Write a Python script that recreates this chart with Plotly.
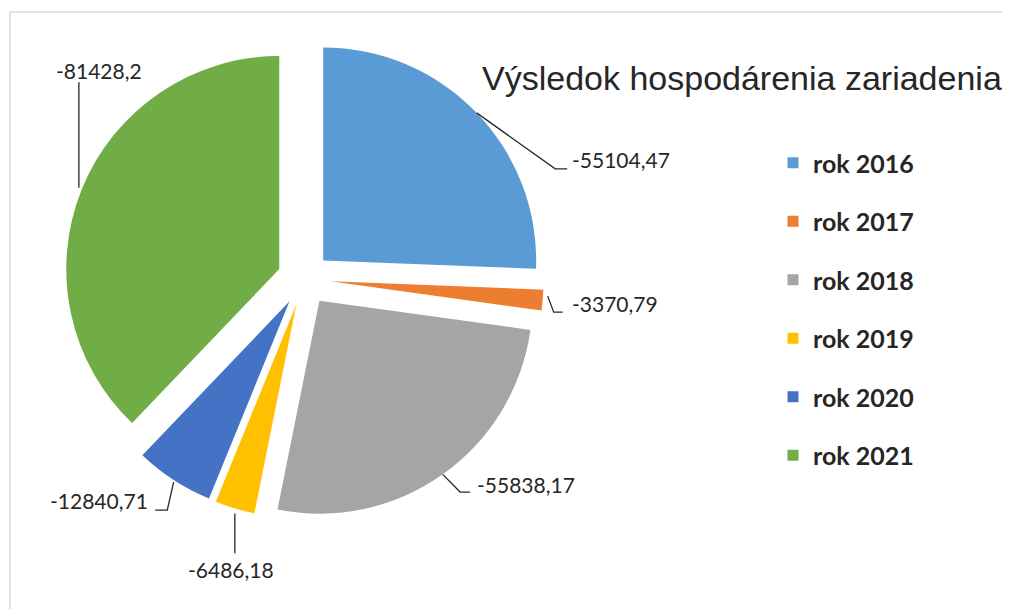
import math
import plotly.graph_objects as go

# ---- data ----
years = ["rok 2016", "rok 2017", "rok 2018", "rok 2019", "rok 2020", "rok 2021"]
results = [-55104.47, -3370.79, -55838.17, -6486.18, -12840.71, -81428.2]
colors = ["#5B9BD5", "#ED7D31", "#A5A5A5", "#FFC000", "#4472C4", "#70AD47"]
title_text = "Výsledok hospodárenia zariadenia"

labels_txt = [str(v).replace(".", ",") for v in results]
sizes = [abs(v) for v in results]

# ---- layout geometry (pixels in the figure) ----
W, H = 1010, 609
OFF = 8                # page body margin
CX, CY = 304 - OFF, 279 - OFF   # pie centre
R = 213                # pie radius
PULL = 0.125
box = 2 * R * (1 + PULL)
dom_x = [(CX - box / 2) / W, (CX + box / 2) / W]
dom_y = [1 - (CY + box / 2) / H, 1 - (CY - box / 2) / H]

def px(x):
    return x / W

def py(y):
    return 1 - y / H

# label styling relative to slice edge: text offset, anchor, leader-line points
label_style = [
    dict(t=(93.5, 47), anchor="left", line=[(0, 0), (78.5, 56), (90.5, 56)]),
    dict(t=(27.4, 3.7), anchor="left", line=[(5, -4), (11, 12), (20, 12)]),
    dict(t=(32.3, 9.7), anchor="left", line=[(0, 0), (17.3, 17.7), (27.3, 17.7)]),
    dict(t=(-3.8, 60.7), anchor="center", line=[(0, 5), (0, 44.7)]),
    dict(t=(-23.4, 20), anchor="right", line=[(0, 2), (-6.4, 30), (-18.4, 30)]),
    dict(t=(17.3, -119.6), anchor="center", line=[(-2.7, -2), (-2.7, -107.6)]),
]

fig = go.Figure()
fig.add_trace(go.Pie(
    labels=years, values=sizes, sort=False, direction="clockwise", rotation=0,
    marker=dict(colors=colors, line=dict(width=0)),
    pull=[PULL] * len(sizes), textinfo="none", hoverinfo="label+value",
    domain=dict(x=dom_x, y=dom_y), showlegend=False,
))

# legend entries (dummy traces to control spacing)
for i, (yr, col) in enumerate(zip(years, colors)):
    fig.add_trace(go.Scatter(
        x=[None], y=[None], mode="markers", name=yr,
        marker=dict(symbol="square", size=11, color=col),
        legendgroup=f"g{i}", showlegend=True,
    ))

# data labels with leader lines, positioned from slice mid-angles
total = sum(sizes)
cum = 0.0
annotations = []
shapes = []
for i, v in enumerate(sizes):
    mid = (cum + v / 2) / total * 2 * math.pi
    cum += v
    dx, dy = math.sin(mid), -math.cos(mid)
    ex = CX + R * (1 + PULL) * dx
    ey = CY + R * (1 + PULL) * dy
    st = label_style[i]
    tx, ty = st["t"]
    annotations.append(dict(
        x=px(ex + tx), y=py(ey + ty), xref="paper", yref="paper",
        xanchor=st["anchor"], yanchor="middle",
        text=labels_txt[i], showarrow=False,
        font=dict(family="Lato, Liberation Sans, sans-serif", size=21, color="#262626"),
    ))
    pts = [(px(ex + a), py(ey + b)) for a, b in st["line"]]
    path = "M " + " L ".join(f"{x:.5f},{y:.5f}" for x, y in pts)
    shapes.append(dict(type="path", xref="paper", yref="paper", path=path,
                       line=dict(color="#262626", width=1.3)))

annotations.append(dict(
    x=px(480 - OFF), y=py(78 - OFF), xref="paper", yref="paper",
    xanchor="left", yanchor="middle",
    text=title_text, showarrow=False,
    font=dict(family="Liberation Sans, Arial, sans-serif", size=34, color="#262626"),
))

shapes.append(dict(type="rect", xref="paper", yref="paper",
                   x0=px(10 - OFF), y0=-0.05, x1=1.05, y1=py(12 - OFF),
                   line=dict(color="#d9d9d9", width=1.5), fillcolor="rgba(0,0,0,0)", layer="below"))

fig.update_layout(
    width=W, height=H,
    margin=dict(l=0, r=0, t=0, b=0),
    paper_bgcolor="white", plot_bgcolor="white",
    xaxis=dict(visible=False, range=[0, 1]),
    yaxis=dict(visible=False, range=[0, 1]),
    annotations=annotations,
    shapes=shapes,
    legend=dict(
        x=px(765), y=py(132), xanchor="left", yanchor="top",
        font=dict(family="Lato, Liberation Sans, sans-serif", size=25, color="#262626", weight="bold"),
        tracegroupgap=23, itemwidth=30, bgcolor="rgba(0,0,0,0)",
    ),
)

fig.write_html("out.html")
